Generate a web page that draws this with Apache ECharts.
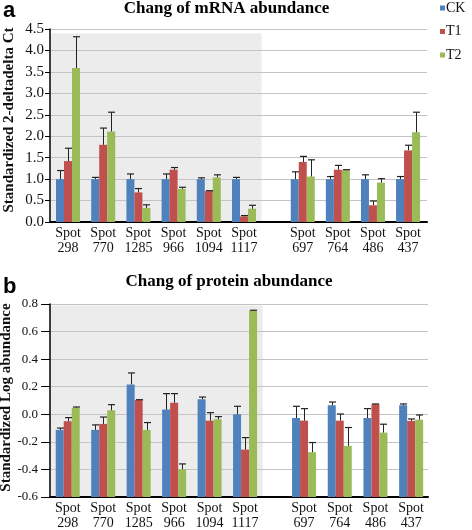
<!DOCTYPE html>
<html>
<head>
<meta charset="utf-8">
<script src="https://cdn.jsdelivr.net/npm/echarts@6/dist/echarts.min.js"></script>
<style>html,body{margin:0;padding:0;background:#fff}#c{width:472px;height:530px}</style>
</head>
<body>
<div id="c"></div>
<script>
// ---- data ----
const seriesNames = ['CK', 'T1', 'T2'];
const spotsLeft = ['298', '770', '1285', '966', '1094', '1117'];
const spotsRight = ['697', '764', '486', '437'];

// panel a: mRNA (standardized 2-deltadelta Ct)
const mrnaCK    = [1.00, 1.00, 1.00, 1.00, 1.00, 1.00, 1.00, 1.00, 1.00, 1.00];
const mrnaCKErr = [0.20, 0.04, 0.12, 0.12, 0.03, 0.04, 0.17, 0.06, 0.10, 0.06];
const mrnaT1    = [1.42, 1.80, 0.69, 1.22, 0.72, 0.13, 1.40, 1.22, 0.39, 1.67];
const mrnaT1Err = [0.30, 0.39, 0.09, 0.05, 0.01, 0.02, 0.13, 0.10, 0.10, 0.12];
const mrnaT2    = [3.59, 2.11, 0.33, 0.77, 1.04, 0.31, 1.06, 1.21, 0.92, 2.09];
const mrnaT2Err = [0.73, 0.45, 0.07, 0.04, 0.06, 0.08, 0.39, 0.01, 0.09, 0.47];

// panel b: protein (standardized log abundance)
const protCK    = [-0.113, -0.113, 0.217, 0.034, 0.109, 0.000, -0.027, 0.065, -0.027, 0.065];
const protCKErr = [0.013, 0.036, 0.083, 0.116, 0.016, 0.058, 0.085, 0.024, 0.068, 0.010];
const protT1    = [-0.050, -0.070, 0.104, 0.084, -0.046, -0.256, -0.046, -0.046, 0.072, -0.048];
const protT1Err = [0.026, 0.050, 0.002, 0.066, 0.058, 0.087, 0.087, 0.048, 0.003, 0.014];
const protT2    = [0.048, 0.029, -0.113, -0.398, -0.036, 0.753, -0.275, -0.229, -0.133, -0.039];
const protT2Err = [0.005, 0.041, 0.053, 0.038, 0.019, 0.002, 0.070, 0.133, 0.061, 0.034];

// tick settings
const mrnaTicks = { min: 0, max: 4.5, interval: 0.5 };
const protTicks = { min: -0.6, max: 0.8, interval: 0.2 };

// ---- styles ----
const COLORS = ['#4F81BD', '#C0504D', '#9BBB59'];
const SERIF = '"Liberation Serif", "Times New Roman", serif';
const SANS = '"Liberation Sans", Arial, sans-serif';
const BAR_W = 8;

const catLabel = s => 'Spot\n' + s;
const leftCats = spotsLeft.map(catLabel);
const rightCats = spotsRight.map(catLabel);

function errRender(params, api) {
  const v = api.value(1), e = api.value(2), k = api.value(3);
  const idx = api.value(0);
  const p0 = api.coord([idx, v]);
  const p1 = api.coord([idx, v + e]);
  const cx = Math.round(p0[0] + (k - 1) * BAR_W) + 0.5;
  return {
    type: 'group',
    children: [
      { type: 'line', shape: { x1: cx, y1: p0[1], x2: cx, y2: p1[1] }, style: { stroke: '#222', lineWidth: 1 } },
      { type: 'line', shape: { x1: cx - 3.5, y1: p1[1], x2: cx + 3.5, y2: p1[1] }, style: { stroke: '#222', lineWidth: 1.2 } }
    ]
  };
}

const grids = [];
const xAxes = [];
const yAxes = [];
const series = [];

function addPanel(cfg) {
  const base = grids.length;
  const gCommon = { containLabel: false, outerBoundsMode: 'none' };
  grids.push(Object.assign({ left: cfg.left, right: cfg.right, top: cfg.top, bottom: cfg.bottom }, gCommon));
  grids.push(Object.assign({ left: cfg.lLeft, width: cfg.lWidth, top: cfg.shadeTop, bottom: cfg.bottom,
    show: true, backgroundColor: '#ececec', borderWidth: 0 }, gCommon));
  grids.push(Object.assign({ left: cfg.rLeft, width: cfg.rWidth, top: cfg.top, bottom: cfg.bottom }, gCommon));

  xAxes.push({ gridIndex: base, type: 'value', min: 0, max: 1, z: 3,
    axisLine: { show: true, onZero: false, lineStyle: { color: '#000', width: 2 } },
    axisTick: { show: false }, axisLabel: { show: false }, splitLine: { show: false } });
  const lab = { fontFamily: SERIF, fontSize: 14, color: '#111', lineHeight: 15, margin: 4, interval: 0 };
  xAxes.push({ gridIndex: base + 1, type: 'category', data: leftCats,
    axisLine: { show: false }, axisTick: { show: false }, axisLabel: lab });
  xAxes.push({ gridIndex: base + 2, type: 'category', data: rightCats,
    axisLine: { show: false }, axisTick: { show: false }, axisLabel: lab });

  yAxes.push({ gridIndex: base, type: 'value', min: cfg.ticks.min, max: cfg.ticks.max, interval: cfg.ticks.interval, z: 1,
    name: cfg.yName, nameLocation: 'middle', nameGap: cfg.nameGap, nameMoveOverlap: false,
    nameTextStyle: { fontFamily: SERIF, fontSize: 15, fontWeight: 'bold', color: '#111', padding: cfg.namePad },
    axisLine: { show: true, onZero: false, lineStyle: { color: '#000', width: 1.5 } },
    axisTick: { show: true, inside: false, length: cfg.tickLen, lineStyle: { color: '#000' } },
    axisLabel: { fontFamily: SERIF, fontSize: cfg.labSize, color: '#111', margin: cfg.labMargin,
      formatter: v => v.toFixed(1) },
    splitLine: { show: true, lineStyle: { color: '#c4c4c4', width: 1 } } });
  yAxes.push({ gridIndex: base + 1, type: 'value', min: cfg.ticks.min, max: cfg.shadeMax, startValue: cfg.ticks.min,
    show: false, splitLine: { show: false } });
  yAxes.push({ gridIndex: base + 2, type: 'value', min: cfg.ticks.min, max: cfg.ticks.max, startValue: cfg.ticks.min,
    show: false, splitLine: { show: false } });

  const vals = cfg.values, errs = cfg.errs;
  [[base + 1, 0, 6, leftCats], [base + 2, 6, 10, rightCats]].forEach(([gi, s, e, cats]) => {
    seriesNames.forEach((nm, k) => {
      series.push({ type: 'bar', name: nm, xAxisIndex: gi, yAxisIndex: gi,
        data: vals[k].slice(s, e), barWidth: BAR_W, barGap: '0%',
        itemStyle: { color: COLORS[k] }, z: 4, silent: true });
    });
    seriesNames.forEach((nm, k) => {
      const d = vals[k].slice(s, e).map((v, i) => [cats[i], v, errs[k][s + i], k]);
      series.push({ type: 'custom', xAxisIndex: gi, yAxisIndex: gi, renderItem: errRender,
        encode: { x: 0, y: 1 }, data: d, z: 5, silent: true });
    });
  });
}

addPanel({
  left: 50, right: 45, top: 29, bottom: 308,
  lLeft: 50.4, lWidth: 211.2, rLeft: 285.2, rWidth: 140.4,
  shadeTop: 33.3, shadeMax: 4.4,
  ticks: mrnaTicks, yName: 'Standardized 2-deltadelta Ct', nameGap: 33, namePad: [0, 0, 0, 11],
  tickLen: 5, labMargin: 6, labSize: 15,
  values: [mrnaCK, mrnaT1, mrnaT2], errs: [mrnaCKErr, mrnaT1Err, mrnaT2Err]
});
addPanel({
  left: 50, right: 44, top: 304, bottom: 33,
  lLeft: 50, lWidth: 212.8, rLeft: 286.2, rWidth: 142.8,
  shadeTop: 305.4, shadeMax: 0.79,
  ticks: protTicks, yName: 'Standardized Log abundance', nameGap: 36, namePad: [0, 0, 0, 6],
  tickLen: 9, labMargin: 12, labSize: 13,
  values: [protCK, protT1, protT2], errs: [protCKErr, protT1Err, protT2Err]
});

const chart = echarts.init(document.getElementById('c'), null, { renderer: 'canvas' });
chart.setOption({
  animation: false,
  backgroundColor: '#fff',
  title: [
    { text: 'a', left: 3, top: 0, padding: 0, textStyle: { fontFamily: SANS, fontSize: 22, fontWeight: 'bold', color: '#000' } },
    { text: 'Chang of mRNA abundance', left: 226.5, textAlign: 'center', top: 0, padding: 0,
      textStyle: { fontFamily: SERIF, fontSize: 17, fontWeight: 'bold', color: '#000' } },
    { text: 'b', left: 3, top: 276, padding: 0, textStyle: { fontFamily: SANS, fontSize: 22, fontWeight: 'bold', color: '#000' } },
    { text: 'Chang of protein abundance', left: 229, textAlign: 'center', top: 273, padding: 0,
      textStyle: { fontFamily: SERIF, fontSize: 17, fontWeight: 'bold', color: '#000' } }
  ],
  legend: {
    data: seriesNames, orient: 'vertical', left: 440, top: 1, itemGap: 9.5, padding: 0,
    itemWidth: 5, itemHeight: 5, icon: 'rect', selectedMode: false,
    textStyle: { fontFamily: SERIF, fontSize: 14, color: '#111', padding: [0, 0, 0, -4] }
  },
  grid: grids,
  xAxis: xAxes,
  yAxis: yAxes,
  series: series
});
</script>
</body>
</html>
